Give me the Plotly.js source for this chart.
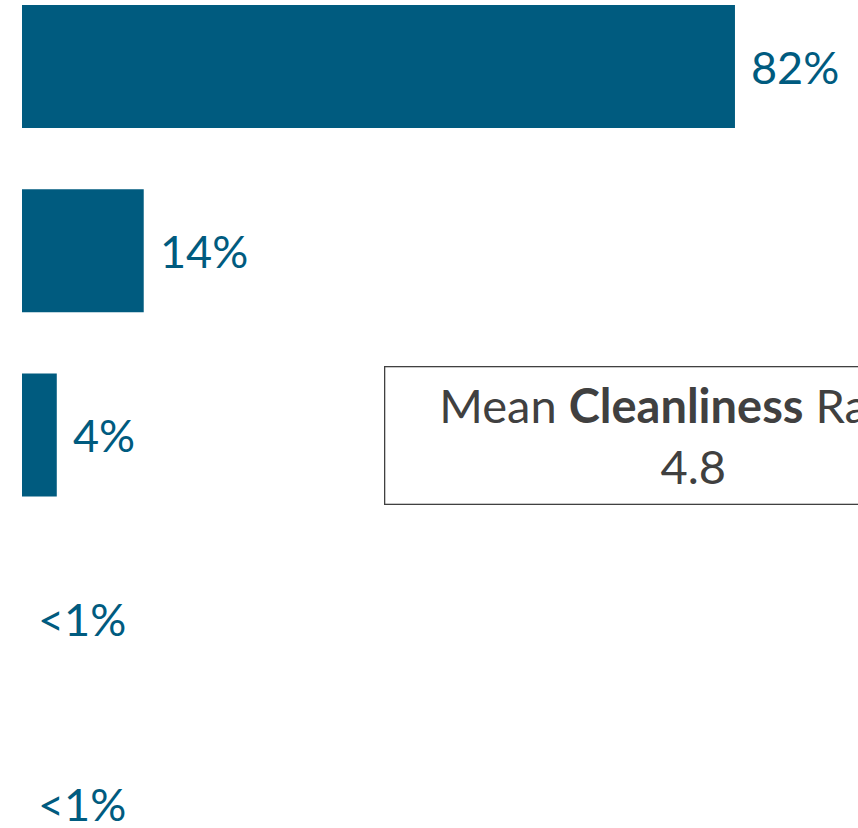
<!DOCTYPE html>
<html>
<head>
<meta charset="utf-8">
<script src="https://cdn.plot.ly/plotly-3.0.1.min.js"></script>
<style>html,body{margin:0;padding:0;background:#fff;}#chart{width:858px;height:828px;}</style>
</head>
<body>
<div id="chart"></div>
<script>
const categories = ["Rating 5", "Rating 4", "Rating 3", "Rating 2", "Rating 1"];
const values = [82, 14, 4, 0, 0];
const labels = ["82%", "14%", "4%", "<1%", "<1%"];
const meanLabel = "Mean <b>Cleanliness</b> Rating";
const meanValue = "4.8";

const barColor = "#005B7F";

const trace = {
  type: "bar",
  orientation: "h",
  y: categories,
  x: values,
  marker: {color: barColor},
  width: 0.668,
  hoverinfo: "skip"
};

const annotations = categories.map((c, i) => ({
  x: values[i], y: c, xref: "x", yref: "y",
  text: labels[i], showarrow: false,
  xanchor: "left", yanchor: "middle", xshift: 14,
  font: {family: "Lato, 'Open Sans', sans-serif", size: 45, color: barColor}
}));

annotations.push({
  xref: "paper", yref: "y", x: (693 - 22) / 836, y: categories[2],
  xanchor: "center", yanchor: "middle",
  text: meanLabel + "<br>" + meanValue,
  showarrow: false,
  align: "center",
  width: 600, height: 120, borderpad: 8,
  bordercolor: "#404040", borderwidth: 1.3,
  font: {family: "Lato, 'Open Sans', sans-serif", size: 47, color: "#404040"}
});

const layout = {
  width: 858, height: 828,
  margin: {l: 22, r: 0, t: 0, b: 0, pad: 0},
  paper_bgcolor: "#fff", plot_bgcolor: "#fff",
  showlegend: false,
  xaxis: {range: [0, 96.15], visible: false, fixedrange: true},
  yaxis: {type: "category", categoryorder: "array", categoryarray: categories,
          range: [4.133, -0.361], visible: false, fixedrange: true},
  annotations: annotations
};

Plotly.newPlot("chart", [trace], layout, {displayModeBar: false, staticPlot: true});
</script>
</body>
</html>
